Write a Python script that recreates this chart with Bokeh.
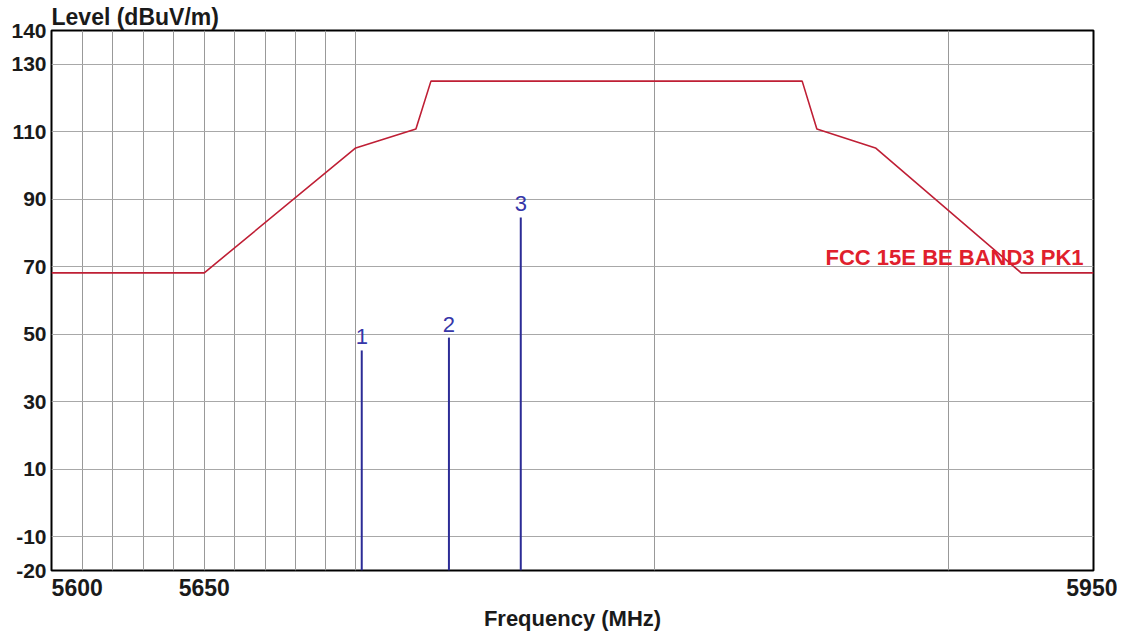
from bokeh.plotting import figure
from bokeh.models import FixedTicker, Range1d, Label, BasicTickFormatter, ColumnDataSource
from bokeh.embed import file_html
from bokeh.resources import INLINE
from bokeh.core.properties import value

# ---- data ----
limit_name = "FCC 15E BE BAND3 PK1"
limit_freq = [5600, 5650, 5700, 5720, 5725, 5850, 5855, 5875, 5925, 5950]
limit_level = [68.2, 68.2, 105.2, 110.8, 125.0, 125.0, 110.8, 105.2, 68.2, 68.2]

marker_ids = ["1", "2", "3"]
marker_freq = [5702, 5731, 5755]
marker_level = [45.2, 49.0, 84.6]

x_tick_values = [5600, 5650, 5950]
x_grid_values = [5610, 5620, 5630, 5640, 5650, 5660, 5670, 5680, 5690, 5700, 5800, 5900]
y_tick_values = [-20, -10, 10, 30, 50, 70, 90, 110, 130, 140]
y_grid_values = [-10, 10, 30, 50, 70, 90, 110, 130]

x_min, x_max = 5600, 5950
y_min, y_max = -20, 140

FONT = "Liberation Sans"
NBSP = "\u00a0"

p = figure(width=1117, height=634, x_axis_type="log",
           x_range=Range1d(x_min, x_max), y_range=Range1d(y_min, y_max),
           output_backend="svg", toolbar_location=None,
           min_border_left=51, min_border_right=24, min_border_top=30, min_border_bottom=64)

p.background_fill_color = "white"
p.border_fill_color = "white"
p.outline_line_color = "black"
p.outline_line_width = 2

# y title at top-left (as plot title)
p.title.text = "Level (dBuV/m)"
p.title.align = "left"
p.title.text_font = FONT
p.title.text_font_style = "bold"
p.title.text_font_size = "23px"
p.title.text_color = "#1a1a1a"
p.title.standoff = 2
p.title.offset = 0

# grids
p.xgrid.ticker = FixedTicker(ticks=x_grid_values)
p.ygrid.ticker = FixedTicker(ticks=y_grid_values)
p.xgrid.grid_line_color = "#999999"
p.ygrid.grid_line_color = "#a8a8a8"
p.xgrid.grid_line_width = 1
p.ygrid.grid_line_width = 1
p.xgrid.minor_grid_line_color = None

# axes
for ax in (p.xaxis[0], p.yaxis[0]):
    ax.axis_line_color = None
    ax.major_tick_line_color = None
    ax.minor_tick_line_color = None
    ax.major_tick_out = 0
    ax.major_tick_in = 0
    ax.minor_tick_out = 0
    ax.major_label_text_font = FONT
    ax.major_label_text_font_style = "bold"
    ax.major_label_text_color = "#1a1a1a"

p.xaxis.ticker = FixedTicker(ticks=x_tick_values)
p.xaxis.formatter = BasicTickFormatter(use_scientific=False)
# first label starts at the axis origin instead of being centred on it
p.xaxis.major_label_overrides = {x_tick_values[0]: NBSP * 8 + str(x_tick_values[0])}
p.xaxis.major_label_text_font_size = "23px"
p.xaxis.major_label_standoff = 4
p.xaxis.axis_label = "Frequency (MHz)"
p.xaxis.axis_label_text_font = FONT
p.xaxis.axis_label_text_font_style = "bold"
p.xaxis.axis_label_text_font_size = "22px"
p.xaxis.axis_label_text_color = "#1a1a1a"
p.xaxis.axis_label_standoff = 2

p.yaxis.ticker = FixedTicker(ticks=y_tick_values)
p.yaxis.major_label_overrides = {v: str(v) for v in y_tick_values}
p.yaxis.major_label_text_font_size = "21px"
p.yaxis.major_label_standoff = 5

# limit line
p.line(limit_freq, limit_level, line_color="#bf1f35", line_width=1.6)
p.add_layout(Label(x=x_max, y=72.7, text=limit_name, text_align="right",
                   text_baseline="middle", x_offset=-10, text_font=FONT,
                   text_font_style="bold", text_font_size="22px", text_color="#e0202c"))

# markers
src = ColumnDataSource(dict(f=marker_freq, lvl=marker_level, base=[y_min] * len(marker_freq),
                            lab=marker_ids))
p.segment(x0="f", y0="base", x1="f", y1="lvl", source=src, line_color="#2c2c96", line_width=2)
p.text(x="f", y="lvl", text="lab", source=src, text_align="center", text_baseline="bottom",
       y_offset=-6, text_font=value(FONT), text_font_size="22px", text_color="#3636a8")

open("out.html", "w").write(file_html(p, INLINE))
